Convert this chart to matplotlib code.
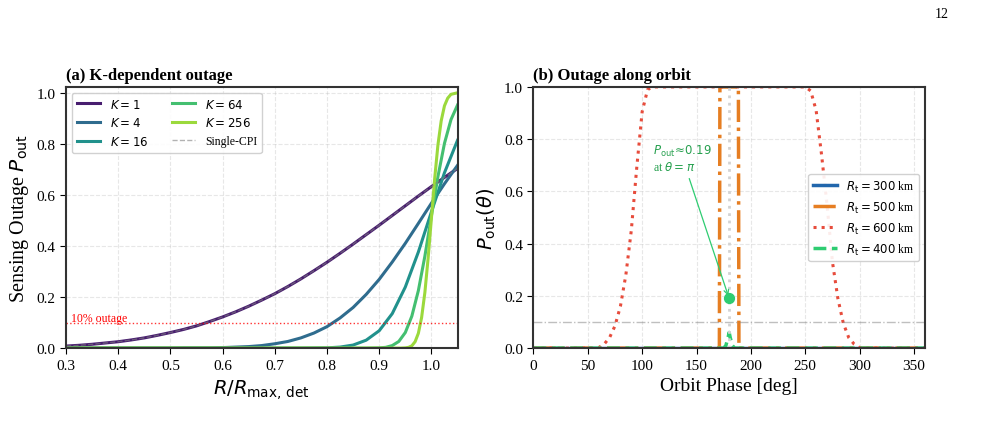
import matplotlib
matplotlib.use('Agg')
from matplotlib import pyplot as plt
import numpy as np

plt.rcParams['font.family'] = 'serif'
plt.rcParams['font.serif'] = ['Liberation Serif', 'DejaVu Serif']
plt.rcParams['mathtext.fontset'] = 'dejavusans'

# (a) outage vs normalised range
r_wide = [0.300, 0.325, 0.350, 0.375, 0.400, 0.425, 0.450, 0.475, 0.500, 0.525,
          0.550, 0.575, 0.600, 0.625, 0.650, 0.675, 0.700, 0.725, 0.750, 0.775,
          0.800, 0.825, 0.850, 0.875, 0.900, 0.925, 0.950, 0.975, 1.000, 1.025, 1.050]
p_k1 = [0.008, 0.011, 0.015, 0.020, 0.025, 0.032, 0.040, 0.050, 0.061, 0.073,
        0.087, 0.104, 0.122, 0.142, 0.164, 0.188, 0.213, 0.241, 0.271, 0.303,
        0.336, 0.371, 0.407, 0.444, 0.481, 0.519, 0.557, 0.595, 0.632, 0.668, 0.703]
p_k4 = [0.000, 0.000, 0.000, 0.000, 0.000, 0.000, 0.000, 0.000, 0.000, 0.001,
        0.001, 0.001, 0.002, 0.004, 0.006, 0.010, 0.017, 0.026, 0.040, 0.059,
        0.084, 0.118, 0.159, 0.210, 0.269, 0.337, 0.410, 0.488, 0.567, 0.643, 0.715]

r_k16 = [0.300, 0.700, 0.750, 0.800, 0.825, 0.850, 0.875, 0.900, 0.925, 0.950,
         0.975, 1.000, 1.025, 1.050]
p_k16 = [0.000, 0.000, 0.0001, 0.001, 0.004, 0.012, 0.031, 0.068, 0.135, 0.239,
         0.376, 0.533, 0.686, 0.813]

r_k64 = [0.300, 0.850, 0.875, 0.900, 0.9125, 0.925, 0.9375, 0.950, 0.9625, 0.975,
         0.9875, 1.000, 1.0125, 1.025, 1.0375, 1.050]
p_k64 = [0.000, 0.000, 0.0001, 0.001, 0.003, 0.010, 0.026, 0.061, 0.125, 0.225,
         0.360, 0.517, 0.671, 0.801, 0.894, 0.951]

r_k256 = [0.300, 0.900, 0.940, 0.950, 0.95625, 0.9625, 0.96875, 0.975, 0.98125,
          0.9875, 0.99375, 1.000, 1.00625, 1.0125, 1.01875, 1.025, 1.03125,
          1.0375, 1.050]
p_k256 = [0.000, 0.000, 0.0001, 0.001, 0.003, 0.009, 0.025, 0.058, 0.120,
          0.218, 0.353, 0.508, 0.663, 0.795, 0.889, 0.948, 0.978,
          0.993, 0.999]

k_labels = ['$K=1$', '$K=4$', '$K=16$', '$K=64$', '$K=256$']

# (b) outage along the orbit
theta_300 = [0, 360]
p_300 = [0, 0]
theta_500 = [0, 171, 171.5, 188.5, 189, 360]
p_500 = [0, 0, 1, 1, 0, 0]
theta_600 = [0, 55, 60, 65, 70, 75, 80, 85, 90, 95, 100, 105, 110,
             250, 255, 260, 265, 270, 275, 280, 285, 290, 295, 300, 305, 360]
p_600 = [0, 0, 0.002, 0.015, 0.04, 0.085, 0.16, 0.28, 0.45, 0.69, 0.905, 0.99, 1.0,
         1.0, 0.985, 0.91, 0.74, 0.55, 0.33, 0.19, 0.095, 0.04, 0.015, 0.002, 0, 0]
theta_400 = [0, 175, 177, 179, 180, 181, 183, 185, 360]
p_400 = [0, 0, 0.01, 0.04, 0.06, 0.04, 0.01, 0, 0]
orbit_labels = ['$R_{\\rm t}=300$ km', '$R_{\\rm t}=500$ km',
                '$R_{\\rm t}=600$ km', '$R_{\\rm t}=400$ km']
marker_theta = 180
marker_p = 0.19

fig = plt.figure(figsize=(9.86, 4.31), dpi=100)
ax1 = fig.add_axes([0.067, 0.190, 0.397, 0.606])
ax2 = fig.add_axes([0.541, 0.190, 0.397, 0.606])

colors = plt.cm.viridis([0.08, 0.35, 0.5, 0.7, 0.85])
series = [(r_wide, p_k1), (r_wide, p_k4), (r_k16, p_k16), (r_k64, p_k64), (r_k256, p_k256)]
for (x, y), c, lab in zip(series, colors, k_labels):
    ax1.plot(x, y, color=c, lw=2.2, label=lab)
ax1.plot(r_wide, p_k1, color='gray', lw=1.0, ls='--', alpha=0.6, label='Single-CPI')
ax1.axhline(0.1, color='red', ls=':', lw=1.0, alpha=0.8)
ax1.text(0.31, 0.108, '10% outage', color='red', fontsize=8.5)
ax1.set_xlim(0.3, 1.05)
ax1.set_ylim(0, 1.022)
ax1.set_xlabel('$R/R_{\\rm max,\\,det}$', fontsize=14)
ax1.set_ylabel('Sensing Outage $P_{\\rm out}$', fontsize=14.5)
ax1.set_title('(a) K-dependent outage', loc='left', fontweight='bold', fontsize=12)
ax1.legend(ncol=2, loc='upper left', fontsize=8.5, framealpha=0.9, handlelength=2.0)

ax2.plot(theta_300, p_300, color='#2166ac', lw=2.5, label=orbit_labels[0])
ax2.plot(theta_500, p_500, color='#e67e22', lw=2.5, ls='-.', label=orbit_labels[1])
ax2.plot(theta_600, p_600, color='#e74c3c', lw=2.2, ls=':', label=orbit_labels[2])
ax2.plot(theta_400, p_400, color='#2ecc71', lw=2.5, ls='--', label=orbit_labels[3])
ax2.axvline(180, color='lightgray', ls=':', lw=2)
ax2.axhline(0.1, color='gray', ls='-.', lw=1.0, alpha=0.5)
ax2.scatter([marker_theta], [marker_p], color='#2ecc71', s=50, zorder=5)
ax2.annotate('$P_{\\rm out}\\!\\approx\\!0.19$\nat $\\theta=\\pi$',
             xy=(marker_theta, marker_p), xytext=(110, 0.67),
             color='#27a04f', fontsize=8.5, ha='left', va='bottom',
             arrowprops=dict(arrowstyle='->', color='#2ecc71', lw=0.9))
ax2.set_xlim(0, 360)
ax2.set_ylim(0, 1)
ax2.set_xlabel('Orbit Phase [deg]', fontsize=14)
ax2.set_ylabel('$P_{\\rm out}(\\theta)$', fontsize=14)
ax2.set_title('(b) Outage along orbit', loc='left', fontweight='bold', fontsize=12)
ax2.legend(loc='center right', fontsize=8.5, framealpha=0.9, handlelength=2.0)

for ax in (ax1, ax2):
    ax.grid(True, ls='--', alpha=0.3)
    ax.tick_params(labelsize=11, length=4)
    for s in ax.spines.values():
        s.set_color('#333333')
        s.set_linewidth(1.5)

fig.text(0.962, 0.982, '12', fontsize=10, ha='right', va='top')

fig.savefig('out.png', dpi=100)
